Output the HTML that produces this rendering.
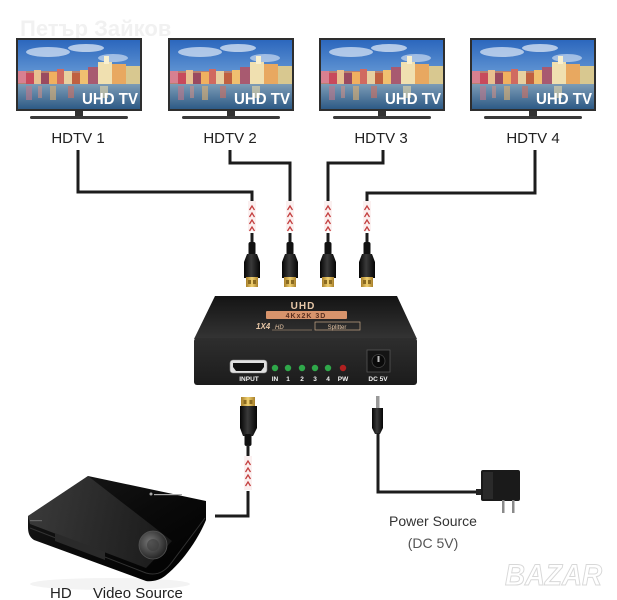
<!DOCTYPE html>
<html><head><meta charset="utf-8">
<style>
html,body{margin:0;padding:0;background:#fff;}
svg{display:block;}
text{font-family:"Liberation Sans",sans-serif;}
</style></head>
<body>
<svg width="617" height="600" viewBox="0 0 617 600" xmlns="http://www.w3.org/2000/svg">
<defs>
  <linearGradient id="sky" x1="0" y1="0" x2="0" y2="1">
    <stop offset="0" stop-color="#2c67bd"/>
    <stop offset="0.6" stop-color="#6d9fd8"/>
    <stop offset="1" stop-color="#b9d0ea"/>
  </linearGradient>
  <linearGradient id="water" x1="0" y1="0" x2="0" y2="1">
    <stop offset="0" stop-color="#7d9cb6"/>
    <stop offset="1" stop-color="#2d5a86"/>
  </linearGradient>
  <linearGradient id="topface" x1="0" y1="0" x2="0" y2="1">
    <stop offset="0" stop-color="#141414"/>
    <stop offset="1" stop-color="#343434"/>
  </linearGradient>
  <linearGradient id="front" x1="0" y1="0" x2="0" y2="1">
    <stop offset="0" stop-color="#2e2e2e"/>
    <stop offset="1" stop-color="#1c1c1c"/>
  </linearGradient>
  <linearGradient id="gold" x1="0" y1="0" x2="1" y2="0">
    <stop offset="0" stop-color="#a8802a"/>
    <stop offset="0.5" stop-color="#f0d070"/>
    <stop offset="1" stop-color="#a8802a"/>
  </linearGradient>
  <linearGradient id="conn" x1="0" y1="0" x2="1" y2="0">
    <stop offset="0" stop-color="#050505"/>
    <stop offset="0.45" stop-color="#3a3a3a"/>
    <stop offset="1" stop-color="#050505"/>
  </linearGradient>
  <linearGradient id="player" x1="0" y1="0" x2="1" y2="1">
    <stop offset="0" stop-color="#1a1a1a"/>
    <stop offset="0.5" stop-color="#0a0a0a"/>
    <stop offset="1" stop-color="#000"/>
  </linearGradient>
  <linearGradient id="gloss" x1="0" y1="0" x2="1" y2="0">
    <stop offset="0" stop-color="#4a4a4a"/>
    <stop offset="1" stop-color="#222"/>
  </linearGradient>
  <radialGradient id="disc" cx="0.4" cy="0.4" r="0.7">
    <stop offset="0" stop-color="#777"/>
    <stop offset="1" stop-color="#1a1a1a"/>
  </radialGradient>
  <g id="screen">
    <rect x="0" y="0" width="122" height="69" fill="url(#sky)"/>
    <ellipse cx="30" cy="12" rx="22" ry="5" fill="#dfeaf6" opacity="0.7"/>
    <ellipse cx="68" cy="8" rx="18" ry="4" fill="#e8f0f8" opacity="0.7"/>
    <ellipse cx="95" cy="18" rx="15" ry="4" fill="#dfeaf6" opacity="0.6"/>
    <rect x="0" y="31" width="122" height="17" fill="#b88070"/>
    <rect x="0" y="31" width="8" height="12" fill="#d88090"/>
    <rect x="8" y="33" width="8" height="12" fill="#c84a5c"/>
    <rect x="16" y="30" width="7" height="14" fill="#e8c090"/>
    <rect x="23" y="33" width="8" height="11" fill="#9a4a60"/>
    <rect x="31" y="32" width="8" height="12" fill="#f0b060"/>
    <rect x="39" y="29" width="7" height="15" fill="#d06a60"/>
    <rect x="46" y="31" width="8" height="13" fill="#e8d0a0"/>
    <rect x="54" y="33" width="8" height="11" fill="#c06040"/>
    <rect x="62" y="30" width="8" height="14" fill="#f0c070"/>
    <rect x="70" y="27" width="10" height="17" fill="#a85a70"/>
    <rect x="80" y="22" width="14" height="22" fill="#f0e0b0"/>
    <rect x="86" y="16" width="5" height="8" fill="#f8f0d0"/>
    <rect x="94" y="24" width="14" height="20" fill="#e8a860"/>
    <rect x="108" y="26" width="14" height="18" fill="#d8c890"/>
    <rect x="0" y="44" width="122" height="25" fill="url(#water)"/>
    <rect x="8" y="46" width="6" height="14" fill="#c07888" opacity="0.6"/>
    <rect x="20" y="46" width="4" height="12" fill="#e09080" opacity="0.5"/>
    <rect x="32" y="46" width="6" height="14" fill="#e0b070" opacity="0.6"/>
    <rect x="50" y="46" width="6" height="12" fill="#d07060" opacity="0.6"/>
    <rect x="82" y="46" width="8" height="12" fill="#e8d8a8" opacity="0.6"/>
    <text x="64" y="64" font-size="16" font-weight="bold" fill="#fff" textLength="56" lengthAdjust="spacingAndGlyphs">UHD TV</text>
  </g>
  <g id="tv">
    <rect x="0" y="0" width="126" height="73" fill="#2e2e2e"/>
    <use href="#screen" x="2" y="2"/>
    <rect x="59" y="73" width="8" height="5" fill="#333"/>
    <rect x="14" y="78" width="98" height="3" rx="1.5" fill="#3a3a3a"/>
  </g>
  <g id="chev">
    <rect x="-4" y="0" width="8" height="30" fill="#fbf0f0"/>
    <path d="M-2.5,9 L0,5 L2.5,9 M-2.5,16 L0,12 L2.5,16 M-2.5,23 L0,19 L2.5,23 M-2.5,30 L0,26 L2.5,30" stroke="#c44040" stroke-width="1.3" fill="none"/>
  </g>
  <g id="hdmi">
    <rect x="-3.5" y="0" width="7" height="14" rx="2" fill="#111"/>
    <path d="M-5,12 L5,12 L8,20 L8,36 L-8,36 L-8,20 Z" fill="url(#conn)"/>
    <rect x="-6" y="35" width="12" height="10" fill="url(#gold)"/>
    <rect x="-4" y="38" width="3" height="4" fill="#8a6a20"/>
    <rect x="1" y="38" width="3" height="4" fill="#8a6a20"/>
  </g>
</defs>

<rect width="617" height="600" fill="#fff"/>

<!-- watermark -->
<text x="20" y="36" font-size="22" font-weight="bold" fill="#f1f1f1">Петър Зайков</text>

<!-- TVs -->
<use href="#tv" x="16" y="38"/>
<use href="#tv" x="168" y="38"/>
<use href="#tv" x="319" y="38"/>
<use href="#tv" x="470" y="38"/>

<g font-size="15" fill="#222" text-anchor="middle">
  <text x="78" y="143">HDTV 1</text>
  <text x="230" y="143">HDTV 2</text>
  <text x="381" y="143">HDTV 3</text>
  <text x="533" y="143">HDTV 4</text>
</g>

<!-- cables top -->
<g stroke="#1c1c1c" stroke-width="3" fill="none">
  <path d="M78,150 V192 H252 V201"/>
  <path d="M230,150 V163 H290 V201"/>
  <path d="M383,150 V163 H328 V201"/>
  <path d="M535,150 V193 H367 V201"/>
  <path d="M252,233 V244 M290,233 V244 M328,233 V244 M367,233 V244"/>
</g>
<use href="#chev" x="252" y="201"/>
<use href="#chev" x="290" y="201"/>
<use href="#chev" x="328" y="201"/>
<use href="#chev" x="367" y="201"/>
<use href="#hdmi" x="252" y="242"/>
<use href="#hdmi" x="290" y="242"/>
<use href="#hdmi" x="328" y="242"/>
<use href="#hdmi" x="367" y="242"/>

<!-- splitter -->
<polygon points="215,296 397,296 417,339 194,339" fill="url(#topface)"/>
<rect x="194" y="338" width="223" height="47" rx="3" fill="url(#front)"/>
<text x="303" y="309" font-size="10" font-weight="bold" fill="#e8c8a8" text-anchor="middle" letter-spacing="1">UHD</text>
<rect x="266" y="311" width="81" height="8" rx="1" fill="#d8946c"/>
<text x="306" y="318" font-size="7" font-weight="bold" fill="#5a3020" text-anchor="middle" letter-spacing="1">4Kx2K 3D</text>
<text x="256" y="329" font-size="8" font-style="italic" font-weight="bold" fill="#e6c6a6">1X4</text>
<text x="275" y="329" font-size="6" font-style="italic" fill="#e6c6a6">HD</text>
<line x1="272" y1="330" x2="312" y2="330" stroke="#c8a888" stroke-width="0.6"/>
<rect x="315" y="322" width="45" height="8" fill="none" stroke="#c8a888" stroke-width="0.7"/>
<text x="337" y="329" font-size="6" fill="#e6c6a6" text-anchor="middle">Splitter</text>

<!-- HDMI port -->
<rect x="230" y="360" width="37" height="13" rx="3" fill="#e0e0e0" stroke="#888" stroke-width="0.6"/>
<path d="M233,363 H264 V367 L261,371 H236 L233,367 Z" fill="#111"/>
<g font-size="6.5" font-weight="bold" fill="#f2f2f2" text-anchor="middle">
  <text x="249" y="381">INPUT</text>
  <text x="275" y="381">IN</text>
  <text x="288" y="381">1</text>
  <text x="302" y="381">2</text>
  <text x="315" y="381">3</text>
  <text x="328" y="381">4</text>
  <text x="343" y="381">PW</text>
  <text x="378" y="381">DC 5V</text>
</g>
<g>
  <circle cx="275" cy="368" r="3.2" fill="#2fa84a"/>
  <circle cx="288" cy="368" r="3.2" fill="#2fa84a"/>
  <circle cx="302" cy="368" r="3.2" fill="#2fa84a"/>
  <circle cx="315" cy="368" r="3.2" fill="#2fa84a"/>
  <circle cx="328" cy="368" r="3.2" fill="#2fa84a"/>
  <circle cx="343" cy="368" r="3.2" fill="#b02020"/>
</g>
<rect x="367" y="350" width="23" height="22" fill="#141414" stroke="#555" stroke-width="0.8"/>
<circle cx="378.5" cy="361" r="6.5" fill="#0a0a0a" stroke="#444" stroke-width="0.8"/>
<rect x="377.5" y="356" width="2" height="6" fill="#bbb"/>

<!-- input cable bottom -->
<rect x="241" y="397" width="14" height="10" fill="url(#gold)"/>
<rect x="243.5" y="400" width="3" height="4" fill="#8a6a20"/>
<rect x="249.5" y="400" width="3" height="4" fill="#8a6a20"/>
<path d="M240,406 L257,406 L257,428 L253,436 L243,436 L240,428 Z" fill="url(#conn)"/>
<rect x="244.5" y="434" width="7" height="12" rx="2" fill="#111"/>
<g stroke="#1c1c1c" stroke-width="3" fill="none">
  <path d="M248,445 V456"/>
  <path d="M248,491 V516 H215"/>
</g>
<rect x="244" y="456" width="8" height="34" fill="#fbf0f0"/>
<path d="M245.5,465 L248,461 L250.5,465 M245.5,472 L248,468 L250.5,472 M245.5,479 L248,475 L250.5,479 M245.5,486 L248,482 L250.5,486" stroke="#c44040" stroke-width="1.3" fill="none"/>

<!-- power plug -->
<rect x="376" y="396" width="3.5" height="12" fill="#9a9a9a"/>
<path d="M372,408 H383 V428 L380,434 H375 L372,428 Z" fill="url(#conn)"/>
<path d="M378,433 V492 H482" stroke="#1c1c1c" stroke-width="3" fill="none"/>
<rect x="476" y="489" width="6" height="6" fill="#222"/>
<rect x="481" y="470" width="39" height="31" rx="2" fill="#1a1a1a"/>
<rect x="483" y="472" width="10" height="27" fill="#2a2a2a"/>
<rect x="502" y="500" width="2.5" height="13" fill="#8a8a8a"/>
<rect x="512" y="500" width="2.5" height="13" fill="#8a8a8a"/>

<text x="433" y="526" font-size="14" fill="#333" text-anchor="middle">Power Source</text>
<text x="433" y="548" font-size="14" fill="#555" text-anchor="middle">(DC 5V)</text>

<!-- player -->
<ellipse cx="110" cy="584" rx="80" ry="6" fill="#f3f3f3"/>
<path d="M28,516 L88,476 L206,501 L206,520 C200,535 185,560 165,576 C160,580 152,582 146,581 L34,540 C29,537 28,532 28,527 Z" fill="url(#player)"/>
<path d="M28,516 L88,476 L172,541 L146,568 L30,524 Z" fill="url(#gloss)" opacity="0.7"/>
<path d="M30,528 L146,573 C156,576 165,572 172,562 L205,518" stroke="#333" stroke-width="1" fill="none"/>
<path d="M55,533 L105,552 L105,560 L55,541 Z" fill="#2a2a2a"/>
<circle cx="153" cy="545" r="14" fill="url(#disc)" stroke="#555" stroke-width="0.8"/>
<circle cx="153" cy="545" r="6" fill="#3a3a3a" opacity="0.6"/>
<g fill="#aaa"><rect x="154" y="494" width="28" height="1.2"/><circle cx="151" cy="494" r="1.5"/></g>
<rect x="30" y="520" width="12" height="1.2" fill="#666"/>

<text x="50" y="598" font-size="15" fill="#222">HD</text>
<text x="93" y="598" font-size="15" fill="#222">Video Source</text>

<!-- BAZAR watermark -->
<text x="505" y="585" font-size="30" font-weight="bold" font-style="italic" fill="#fff" stroke="#d8d8d8" stroke-width="1" textLength="97" lengthAdjust="spacingAndGlyphs">BAZAR</text>
</svg>
</body></html>
